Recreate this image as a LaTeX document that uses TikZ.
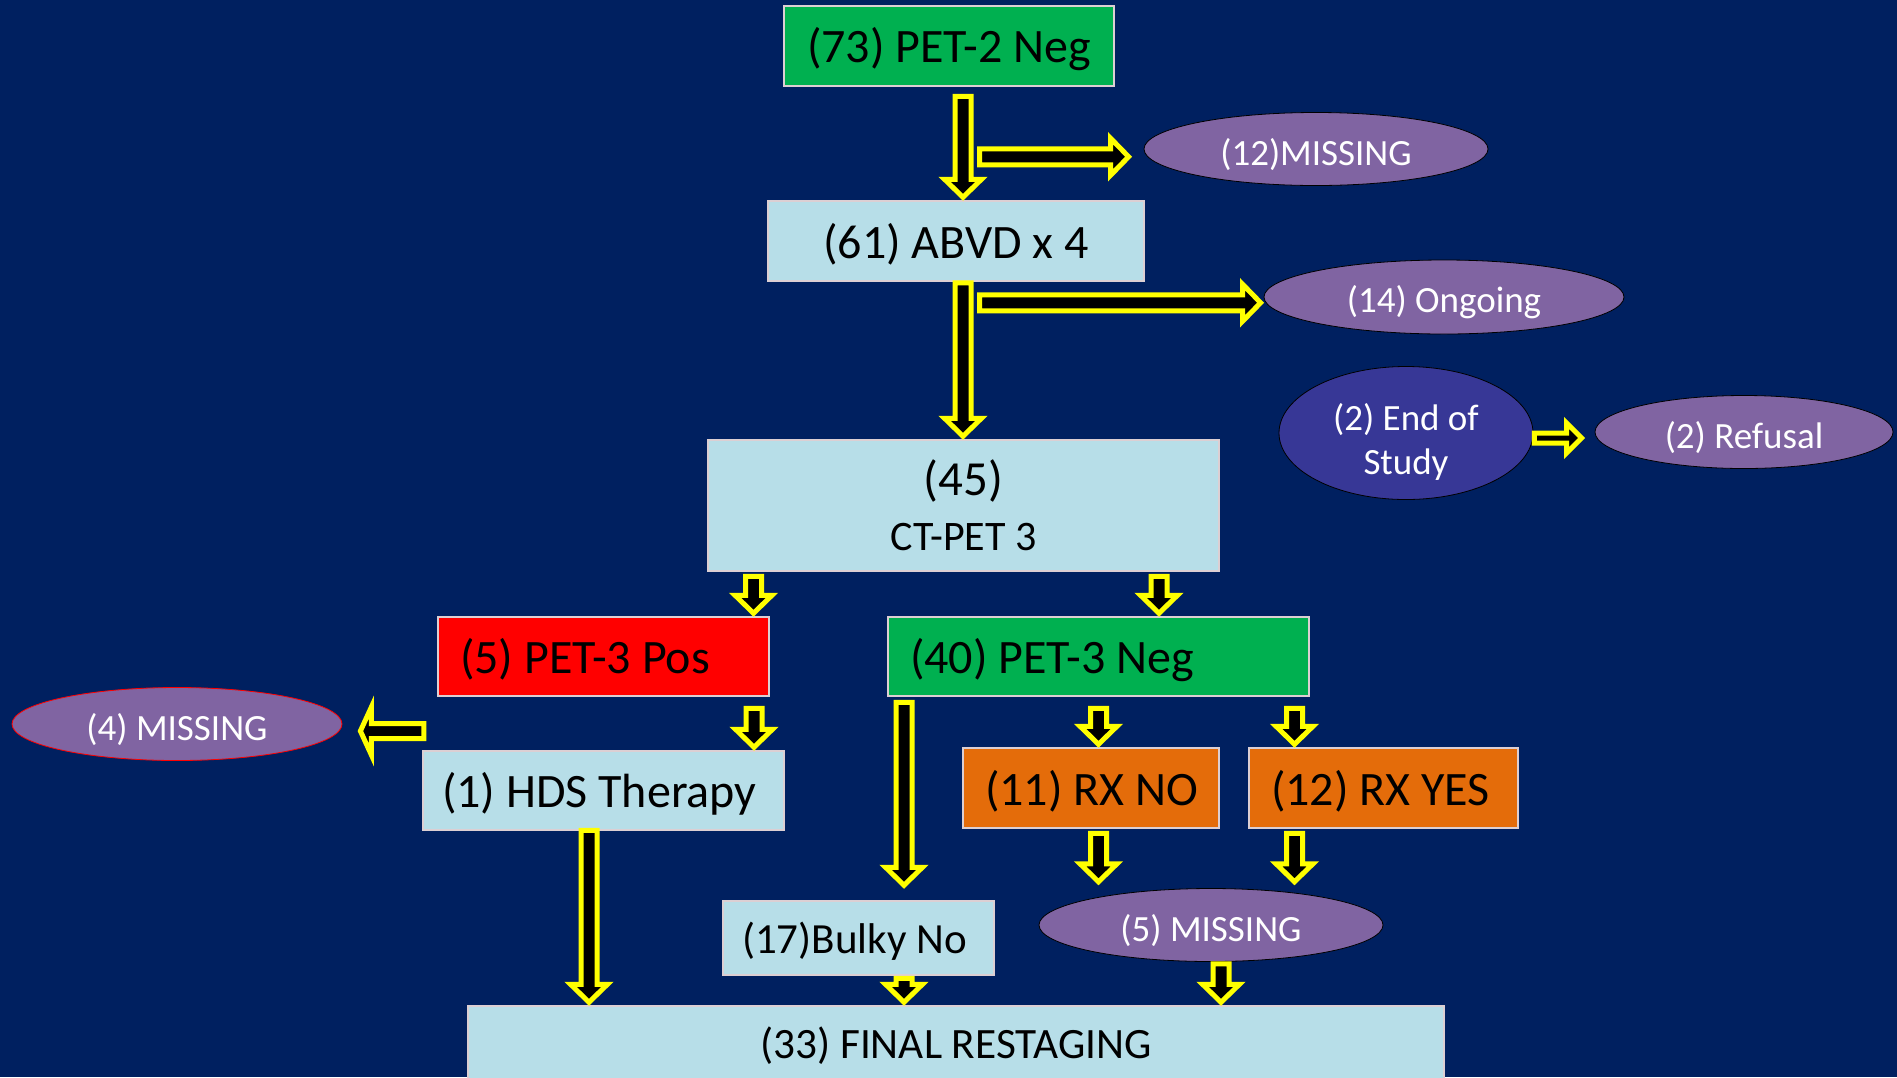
\documentclass[tikz,border=0pt]{standalone}
\usepackage{fontspec}
\setmainfont{Carlito}
\usetikzlibrary{calc,shapes.geometric}
\definecolor{bgnavy}{HTML}{002060}
\definecolor{boxgreen}{HTML}{00B050}
\definecolor{boxblue}{HTML}{B7DEE8}
\definecolor{boxred}{HTML}{FF0000}
\definecolor{boxorange}{HTML}{E46C0A}
\definecolor{ellpurple}{HTML}{8064A2}
\definecolor{elldark}{HTML}{373796}
\definecolor{boxedge}{HTML}{DCCFD3}
\definecolor{arrowyellow}{HTML}{FFFF00}
\tikzset{
  basebox/.style={draw=boxedge, line width=1.5pt, rectangle, inner sep=0pt, text=black,
    execute at begin node={\rule{0pt}{0.86em}}},
  cbox/.style={basebox, align=center},
  lbox/.style={basebox, inner xsep=22pt},
  bigfont/.style={font=\fontsize{48}{56}\selectfont},
  ell/.style={ellipse, draw=black, line width=0.8pt, fill=ellpurple, text=white, inner sep=0pt, align=center,
    font=\fontsize{37}{44}\selectfont, execute at begin node={\rule{0pt}{38pt}}},
  blockarrow/.style={draw=arrowyellow, fill=black, line width=5pt, line join=miter, miter limit=20}
}
\newcommand{\lefttext}[2]{\makebox[#1][l]{#2}}
% vertical (down) block arrow: x from #1, tip y from #2; #3 shaft half, #4 head half, #5 head length
\newcommand{\downarrowblk}[5]{%
  \draw[blockarrow] let \p1=(#1), \p2=(#2) in
    (\x1-#3,\y1) -- (\x1-#3,\y2+3+#5) -- (\x1-#4,\y2+3+#5) -- (\x1,\y2+3)
    -- (\x1+#4,\y2+3+#5) -- (\x1+#3,\y2+3+#5) -- (\x1+#3,\y1) -- cycle;}
\newcommand{\rightarrowblk}[5]{%
  \draw[blockarrow] let \p1=(#1), \p2=(#2) in
    (\x1,\y1+#3) -- (\x2-3-#5,\y1+#3) -- (\x2-3-#5,\y1+#4) -- (\x2-3,\y1)
    -- (\x2-3-#5,\y1-#4) -- (\x2-3-#5,\y1-#3) -- (\x1,\y1-#3) -- cycle;}
\newcommand{\leftarrowblk}[5]{%
  \draw[blockarrow] let \p1=(#1), \p2=(#2) in
    (\x1,\y1+#3) -- (\x2+3+#5,\y1+#3) -- (\x2+3+#5,\y1+#4) -- (\x2+3,\y1)
    -- (\x2+3+#5,\y1-#4) -- (\x2+3+#5,\y1-#3) -- (\x1,\y1-#3) -- cycle;}
\begin{document}
\begin{tikzpicture}[x=1pt,y=-1pt]
\useasboundingbox (0,0) rectangle (1897,1077);
\clip (0,0) rectangle (1897,1077);
\fill[bgnavy] (0,0) rectangle (1897,1077);

% boxes
\node[cbox, bigfont, fill=boxgreen, minimum width=330pt, minimum height=80pt] (pet2) at (949,46) {(73) PET-2 Neg};
\node[cbox, bigfont, fill=boxblue, minimum width=376pt, minimum height=80pt] (abvd) at (956,241) {(61) ABVD x 4};
\node[cbox, font=\fontsize{42}{55}\selectfont, fill=boxblue, minimum width=511pt, minimum height=131pt,
  execute at begin node={}] (ctpet) at (963.5,505.5)
  {{\fontsize{49}{55}\selectfont (45)}\\CT-PET 3};
\node[lbox, bigfont, fill=boxred, minimum height=79pt] (pos) at (603.5,656.5) {\lefttext{287pt}{(5) PET-3 Pos}};
\node[lbox, bigfont, fill=boxgreen, minimum height=79pt] (neg) at (1098.5,656.5) {\lefttext{377pt}{(40) PET-3 Neg}};
\node[lbox, bigfont, fill=boxblue, inner xsep=19pt, minimum height=79pt] (hds) at (603.5,790.5) {\lefttext{323pt}{(1) HDS Therapy}};
\node[lbox, bigfont, fill=boxorange, minimum height=80pt] (rxno) at (1091,788) {\lefttext{212pt}{(11) RX NO}};
\node[lbox, bigfont, fill=boxorange, minimum height=80pt] (rxyes) at (1383.5,788) {\lefttext{225pt}{(12) RX YES}};
\node[lbox, font=\fontsize{43}{50}\selectfont, fill=boxblue, inner xsep=19pt, minimum height=74pt] (bulky) at (858.5,938) {\lefttext{233pt}{(17)Bulky No}};
\node[cbox, font=\fontsize{43.3}{50}\selectfont, fill=boxblue, minimum width=976pt, minimum height=74pt] (final) at (956,1043) {(33) FINAL RESTAGING};

% ellipses
\node[ell, minimum width=344pt, minimum height=73pt] (m12) at (1316,149) {(12)MISSING};
\node[ell, minimum width=360pt, minimum height=74pt] (ongo) at (1444,297) {(14) Ongoing};
\node[ell, fill=elldark, minimum width=254pt, minimum height=133pt,
  execute at begin node={}] (eos) at (1406,433)
  {\raisebox{-22pt}[0pt][0pt]{\begin{tabular}[b]{@{}c@{}}(2) End of\\Study\end{tabular}}};
\node[ell, minimum width=298pt, minimum height=73pt] (refusal) at (1744,432) {(2) Refusal};
\node[ell, draw=boxred, minimum width=330pt, minimum height=73pt] (m4) at (177,724) {(4) MISSING};
\node[ell, minimum width=344pt, minimum height=73pt] (m5) at (1211,925) {(5) MISSING};

% arrow anchor coordinates
\coordinate (a1s) at ($(pet2.south)+(14,9.5)$);
\coordinate (a1h) at ($(pet2.south)+(30.5,70)$);
\coordinate (a1e) at ($(m12.west)+(-12,0)$);
\coordinate (a2s) at ($(abvd.south)+(7,1)$);
\coordinate (a3h) at ($(abvd.south)+(23.5,21)$);
\coordinate (a4s) at ($(eos.east)+(1,5)$);
\coordinate (a4e) at ($(refusal.west)+(-10,0)$);
\coordinate (a5s) at ($(ctpet.south)+(-210,4.5)$);
\coordinate (a6s) at ($(ctpet.south)+(195.5,4.5)$);
\coordinate (a7s) at ($(pos.south)+(150.5,11.5)$);
\coordinate (a8s) at ($(hds.west)+(1.5,-59.5)$);
\coordinate (a8e) at ($(m4.east)+(15,0)$);
\coordinate (a9s) at ($(neg.south)+(0,11.5)$);
\coordinate (a10s) at ($(neg.south)+(196,11.5)$);
\coordinate (a11s) at ($(neg.south)+(-194.5,5.5)$);
\coordinate (a11e) at ($(bulky.north)+(0,-12)$);
\coordinate (a12s) at ($(rxno.south)+(7.5,4.5)$);
\coordinate (a12e) at ($(rxno.south)+(7.5,56)$);
\coordinate (a13s) at ($(rxyes.south)+(-89,4.5)$);
\coordinate (a13e) at ($(rxyes.south)+(-89,56)$);
\coordinate (a14s) at ($(hds.south)+(-14.5,-0.5)$);
\coordinate (a15s) at ($(bulky.south)+(45.5,2.5)$);
\coordinate (a16s) at ($(m5.south)+(10,2)$);

% arrows
\downarrowblk{a1s}{abvd.north}{8}{18.5}{18}
\rightarrowblk{a1h}{a1e}{8}{18.5}{18}
\downarrowblk{a2s}{ctpet.north}{8}{18.5}{18}
\rightarrowblk{a3h}{ongo.west}{8}{18.5}{18}
\rightarrowblk{a4s}{a4e}{5}{15}{15}
\downarrowblk{a5s}{pos.north}{8}{18.5}{18}
\downarrowblk{a6s}{neg.north}{8}{18.5}{18}
\downarrowblk{a7s}{hds.north}{8}{18.5}{18}
\leftarrowblk{a8s}{a8e}{7.5}{24}{11}
\downarrowblk{a9s}{rxno.north}{8}{18.5}{18}
\downarrowblk{a10s}{rxyes.north}{8}{18.5}{18}
\downarrowblk{a11s}{a11e}{8}{18.5}{18}
\downarrowblk{a12s}{a12e}{8}{18.5}{18}
\downarrowblk{a13s}{a13e}{8}{18.5}{18}
\downarrowblk{a14s}{final.north}{8}{18.5}{18}
\downarrowblk{a15s}{final.north}{8}{18.5}{18}
\downarrowblk{a16s}{final.north}{8}{18.5}{18}
\end{tikzpicture}
\end{document}
